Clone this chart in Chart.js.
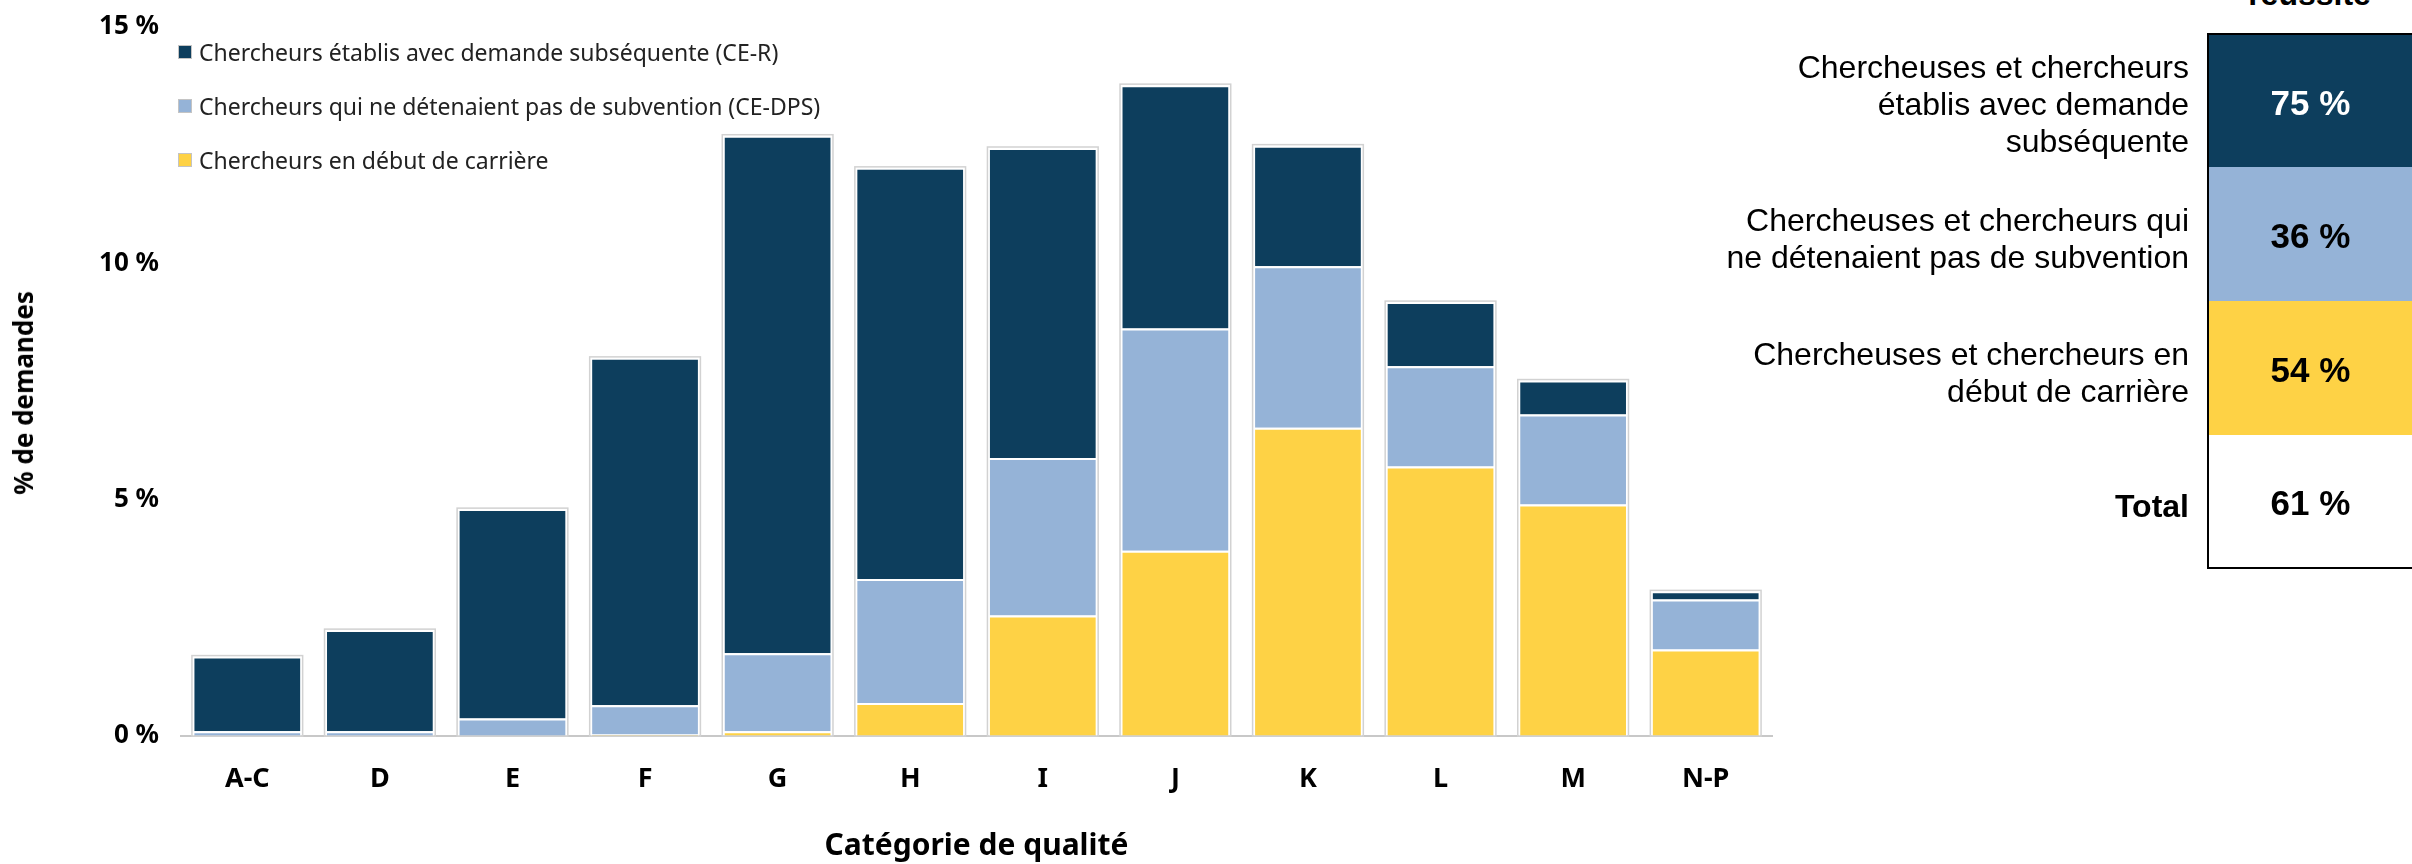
<!DOCTYPE html>
<html>
<head>
<meta charset="utf-8">
<script src="https://cdn.jsdelivr.net/npm/chart.js@4.4.1/dist/chart.umd.min.js"></script>
<style>
    body { margin: 0; background: #fff; }
    #wrap { position: relative; width: 2412px; height: 864px; overflow: hidden; }
    #chartBox { position: absolute; left: 0; top: 0; width: 1800px; height: 864px; }
    #legend { position: absolute; left: 178px; top: 25px; font-family: "Noto Sans", sans-serif; }
    .leg-item { display: flex; align-items: center; height: 54px; font-size: 23px; color: #222; }
    .leg-box { width: 12px; height: 12px; border: 1px solid #c4c4c4; margin-right: 7px; box-sizing: content-box; }
    #yTitle { position: absolute; left: 23px; top: 393px; transform: translate(-50%, -50%) rotate(-90deg);
        white-space: nowrap; font: bold 26px "Noto Sans", sans-serif; color: #000; }
    #tableTitle { position: absolute; left: 2207px; width: 205px; top: -24px; text-align: center;
        font: bold 32px "Liberation Sans", Arial, sans-serif; color: #000; }
    #tauxTable { position: absolute; left: 1700px; top: 33px; width: 712px; font-family: "Liberation Sans", Arial, sans-serif; }
    .row { display: flex; height: 134px; }
    .lbl { width: 507px; padding-right: 18px; display: flex; align-items: center; justify-content: flex-end;
        text-align: right; white-space: pre-line; font-size: 32px; line-height: 37px; color: #000; padding-top: 9px; box-sizing: border-box; }
    .val { width: 205px; display: flex; align-items: center; justify-content: center; font-weight: bold; font-size: 35px;
        border-left: 2px solid #000; box-sizing: border-box; padding-top: 4px; }
</style>
</head>
<body>
<div id="wrap">
    <div id="chartBox"><canvas id="qualityChart"></canvas></div>
    <div id="yTitle">% de demandes</div>
    <div id="legend"></div>
    <div id="tableTitle">réussite</div>
    <div id="tauxTable"></div>
</div>
<script>
// Données (% de demandes par catégorie de qualité)
const categories = ["A-C", "D", "E", "F", "G", "H", "I", "J", "K", "L", "M", "N-P"];
const debutCarriere = [0, 0, 0, 0.03, 0.1, 0.7, 2.55, 3.92, 6.52, 5.7, 4.9, 1.83];
const ceDps = [0.1, 0.1, 0.37, 0.62, 1.65, 2.62, 3.33, 4.7, 3.42, 2.12, 1.9, 1.06];
const ceR = [1.58, 2.14, 4.43, 7.35, 10.95, 8.7, 6.56, 5.15, 2.55, 1.36, 0.72, 0.17];
const yTicks = [0, 5, 10, 15];

const seriesNames = [
    "Chercheurs en début de carrière",
    "Chercheurs qui ne détenaient pas de subvention (CE-DPS)",
    "Chercheurs établis avec demande subséquente (CE-R)"
];
const seriesColors = ["#fed245", "#95b3d7", "#0d3e5d"];

// Tableau des taux de réussite
const tauxLabels = [
    "Chercheuses et chercheurs\nétablis avec demande\nsubséquente",
    "Chercheuses et chercheurs qui\nne détenaient pas de subvention",
    "Chercheuses et chercheurs en\ndébut de carrière",
    "Total"
];
const tauxValeurs = ["75 %", "36 %", "54 %", "61 %"];
const tauxCouleurs = ["#0d3e5d", "#95b3d7", "#fed245", "#ffffff"];
const tauxTexte = ["#ffffff", "#000000", "#000000", "#000000"];

const chartFont = "'Noto Sans', sans-serif";

// contour gris autour de chaque colonne empilée
const contourBarres = {
    id: 'contourBarres',
    afterDatasetsDraw(chart) {
        const ctx = chart.ctx;
        const metas = chart.data.datasets.map((d, i) => chart.getDatasetMeta(i));
        ctx.save();
        ctx.strokeStyle = '#d2d2d2';
        ctx.lineWidth = 1.5;
        categories.forEach((c, i) => {
            const bars = metas.map(m => m.data[i]);
            const top = Math.min(...bars.map(b => b.y));
            const bottom = bars[0].base;
            const w = bars[0].width;
            const x = bars[0].x;
            ctx.strokeRect(x - w / 2 - 1, top - 1, w + 2, bottom - top + 1);
        });
        ctx.restore();
    }
};

const datasets = [debutCarriere, ceDps, ceR].map((values, i) => ({
    label: seriesNames[i],
    data: values,
    backgroundColor: seriesColors[i],
    borderColor: "#ffffff",
    borderWidth: { top: 2, left: 1.5, right: 1.5, bottom: 0 },
    borderSkipped: false,
    categoryPercentage: 1,
    barPercentage: 0.82
}));

new Chart(document.getElementById("qualityChart"), {
    type: "bar",
    data: { labels: categories, datasets: datasets },
    options: {
        responsive: true,
        maintainAspectRatio: false,
        animation: false,
        layout: { padding: { top: 27, right: 28, left: 0, bottom: 0 } },
        plugins: {
            legend: { display: false },
            tooltip: { enabled: false }
        },
        scales: {
            x: {
                stacked: true,
                grid: { display: false, drawTicks: false },
                border: { display: true, color: "#c8c8c8", width: 2 },
                ticks: { color: "#000", padding: 27, font: { family: chartFont, size: 27, weight: "bold" } },
                title: {
                    display: true,
                    text: "Catégorie de qualité",
                    color: "#000",
                    padding: { top: 0, bottom: 0 },
                    font: { family: chartFont, size: 30, weight: "bold" }
                },
                afterFit(scale) { scale.height = 128; }
            },
            y: {
                stacked: true,
                min: 0,
                max: 15,
                afterBuildTicks(scale) { scale.ticks = yTicks.map(v => ({ value: v })); },
                grid: { display: false, drawTicks: false },
                border: { display: false },
                ticks: {
                    color: "#000",
                    padding: 22,
                    font: { family: chartFont, size: 26, weight: "bold" },
                    callback: v => v + " %"
                },
                afterFit(scale) {
                    scale.width = 181;
                    // pas de marge supplémentaire en haut, le 15 % touche presque le bord
                    scale.paddingTop = 0;
                    scale.paddingBottom = 0;
                }
            }
        }
    },
    plugins: [contourBarres]
});

// Légende HTML (ordre inversé, comme dans l'original)
const legend = document.getElementById("legend");
[2, 1, 0].forEach(i => {
    const item = document.createElement("div");
    item.className = "leg-item";
    item.innerHTML = `<span class="leg-box" style="background:${seriesColors[i]}"></span><span>${seriesNames[i]}</span>`;
    legend.appendChild(item);
});

// Tableau des taux
const table = document.getElementById("tauxTable");
tauxLabels.forEach((label, i) => {
    const row = document.createElement("div");
    row.className = "row";
    const lbl = document.createElement("div");
    lbl.className = "lbl";
    lbl.textContent = label;
    if (i === 3) lbl.style.fontWeight = "bold";
    const val = document.createElement("div");
    val.className = "val";
    val.textContent = tauxValeurs[i];
    val.style.background = tauxCouleurs[i];
    val.style.color = tauxTexte[i];
    if (i === 0) val.style.borderTop = "2px solid #000";
    if (i === 3) val.style.borderBottom = "2px solid #000";
    row.appendChild(lbl);
    row.appendChild(val);
    table.appendChild(row);
});
</script>
</body>
</html>
